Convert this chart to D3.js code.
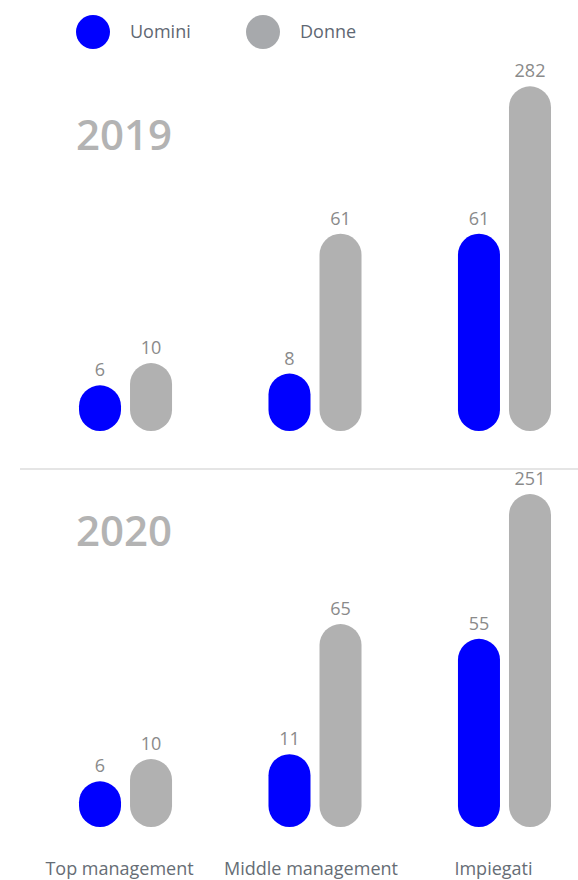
<!DOCTYPE html>
<html>
<head>
<meta charset="utf-8">
<script src="https://cdn.jsdelivr.net/npm/d3@7"></script>
<style>
  html, body { margin: 0; padding: 0; background: #fff; }
  svg { display: block; font-family: "Open Sans", "Noto Sans", sans-serif; }
</style>
</head>
<body>
<svg id="chart" width="578" height="880"></svg>
<script>
// ---- data ----
const categories = ["Top management", "Middle management", "Impiegati"];
const series = ["Uomini", "Donne"];
const years = ["2019", "2020"];
const uomini2019 = [6, 8, 61];
const donne2019 = [10, 61, 282];
const uomini2020 = [6, 11, 55];
const donne2020 = [10, 65, 251];

const panels = [
  { year: years[0], uomini: uomini2019, donne: donne2019 },
  { year: years[1], uomini: uomini2020, donne: donne2020 }
];

// ---- styles ----
const colors = { "Uomini": "#0000ff", "Donne": "#b1b1b1" };
const legendColors = { "Uomini": "#0000ff", "Donne": "#a7a9ac" };

const svg = d3.select("#chart");

// scales
const x0 = d3.scaleBand().domain(categories).range([79, 551]).paddingInner(0.509).paddingOuter(0);
const x1 = d3.scaleBand().domain(series).range([0, x0.bandwidth()]).paddingInner(0.1765).paddingOuter(0);
const h = d3.scaleSymlog().constant(11).domain([0, 300]).range([0, 105 * Math.log1p(300 / 11)]);

// legend
const legendX = d3.scaleOrdinal().domain(series).range([93, 263]);
const lg = svg.append("g").attr("class", "legend");
series.forEach(s => {
  lg.append("circle").attr("cx", legendX(s)).attr("cy", 32).attr("r", 17).attr("fill", legendColors[s]);
  lg.append("text").attr("x", legendX(s) + 37).attr("y", 38)
    .attr("font-size", 18).attr("fill", "#5f6873").text(s);
});

// panels
const baselines = [431, 827];
const yearY = [150, 546];

panels.forEach((p, i) => {
  const g = svg.append("g");
  const base = baselines[i];
  g.append("text").attr("x", 76).attr("y", yearY[i])
    .attr("font-size", 42).attr("font-weight", 600).attr("fill", "#b3b3b3").text(p.year);

  const rows = [];
  categories.forEach((c, ci) => {
    rows.push({ cat: c, s: "Uomini", v: p.uomini[ci] });
    rows.push({ cat: c, s: "Donne", v: p.donne[ci] });
  });

  g.selectAll("rect").data(rows).join("rect")
    .attr("x", d => x0(d.cat) + x1(d.s))
    .attr("width", x1.bandwidth())
    .attr("y", d => base - h(d.v))
    .attr("height", d => h(d.v))
    .attr("rx", x1.bandwidth() / 2)
    .attr("fill", d => colors[d.s]);

  g.selectAll("text.val").data(rows).join("text").attr("class", "val")
    .attr("x", d => x0(d.cat) + x1(d.s) + x1.bandwidth() / 2)
    .attr("y", d => base - h(d.v) - 9)
    .attr("text-anchor", "middle")
    .attr("font-size", 18).attr("fill", "#8a8a8a")
    .text(d => d.v);
});

// divider
svg.append("line").attr("x1", 20).attr("x2", 578).attr("y1", 469).attr("y2", 469)
  .attr("stroke", "#dcdcdc").attr("stroke-width", 1.5);

// category labels
const labelOffset = [-6, -4, -11];
svg.selectAll("text.cat").data(categories).join("text").attr("class", "cat")
  .attr("x", (d, i) => x0(d) + x0.bandwidth() / 2 + labelOffset[i])
  .attr("y", 875)
  .attr("text-anchor", "middle")
  .attr("font-size", 18).attr("fill", "#666d75")
  .text(d => d);
</script>
</body>
</html>
